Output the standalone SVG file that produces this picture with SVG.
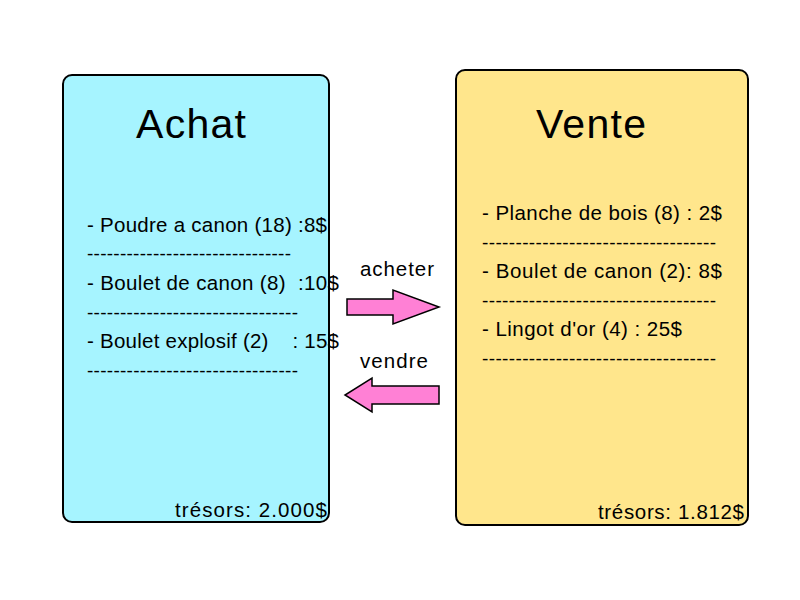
<svg xmlns="http://www.w3.org/2000/svg" width="800" height="600" viewBox="0 0 800 600">
<style>
text{font-family:"Liberation Sans",Arial,sans-serif;fill:#000;white-space:pre}
.t{font-size:41px;text-anchor:middle}
.l{font-size:20.5px}
.d{font-size:19px}
.box{stroke:#000;stroke-width:2}
.arr{fill:#ff80d5;stroke:#000;stroke-width:1.5}
</style>
<rect width="800" height="600" fill="#fff"/>
<g id="achat">
<rect class="box" x="63" y="75" width="266" height="447" rx="9" fill="#a6f4ff"/>
<text class="t" x="191" y="138" textLength="110">Achat</text>
<text class="l" x="87" y="232" textLength="240">- Poudre a canon (18) :8$</text>
<text class="d" x="87" y="260" textLength="204">-------------------------------</text>
<text class="l" x="87" y="290" textLength="252">- Boulet de canon (8)  :10$</text>
<text class="d" x="87" y="319" textLength="211">--------------------------------</text>
<text class="l" x="87" y="348" textLength="252" xml:space="preserve">- Boulet explosif (2)    : 15$</text>
<text class="d" x="87" y="377" textLength="211">--------------------------------</text>
<text class="l" x="327" y="517" text-anchor="end" textLength="152">trésors: 2.000$</text>
</g>
<g id="vente">
<rect class="box" x="456" y="70" width="292" height="455" rx="9" fill="#ffe68c"/>
<text class="t" x="591" y="138" textLength="110">Vente</text>
<text class="l" x="482" y="220" textLength="240">- Planche de bois (8) : 2$</text>
<text class="d" x="482" y="249" textLength="234">-----------------------------------</text>
<text class="l" x="482" y="278" textLength="240">- Boulet de canon (2): 8$</text>
<text class="d" x="482" y="307" textLength="234">-----------------------------------</text>
<text class="l" x="482" y="336" textLength="200">- Lingot d'or (4) : 25$</text>
<text class="d" x="482" y="365" textLength="234">-----------------------------------</text>
<text class="l" x="744" y="519" text-anchor="end" textLength="146">trésors: 1.812$</text>
</g>
<g id="connectors">
<polygon class="arr" points="347,299 393,299 393,290 439,307 393,324 393,315 347,315"/>
<text class="l" x="397" y="276" text-anchor="middle" textLength="74">acheter</text>
<polygon class="arr" points="439,386 372,386 372,378 345,395 372,412 372,404 439,404"/>
<text class="l" x="394" y="368" text-anchor="middle" textLength="68">vendre</text>
</g>
</svg>
